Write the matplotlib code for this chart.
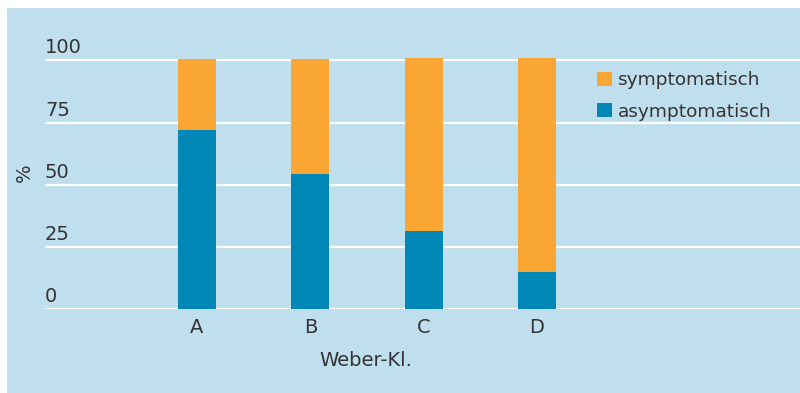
import matplotlib.pyplot as plt
from matplotlib.patches import Rectangle
from matplotlib.transforms import ScaledTranslation

classes = ["A", "B", "C", "D"]
asymptomatisch = [72, 54.3, 31.4, 15]
symptomatisch = [28.5, 46.2, 69.5, 85.9]
yticks = [0, 25, 50, 75, 100]

BG = "#c0dfee"
BLUE = "#0087b5"
ORANGE = "#f9a633"
TXT = "#333333"
plt.rcParams["font.family"] = ["DejaVu Sans"]

fig = plt.figure(figsize=(8, 3.93), dpi=100)
fig.patch.set_facecolor("white")
fig.patches.append(Rectangle((7 / 800, 0), 793 / 800, 385 / 393,
                             transform=fig.transFigure, facecolor=BG,
                             edgecolor="none", zorder=-10))

ax = fig.add_axes([45 / 800, 83.7 / 393, 755 / 800, 273.9 / 393])
ax.set_facecolor("none")
x = range(len(classes))
ax.bar(x, asymptomatisch, width=0.335, color=BLUE, label="asymptomatisch", zorder=2)
ax.bar(x, symptomatisch, width=0.335, bottom=asymptomatisch, color=ORANGE,
       label="symptomatisch", zorder=2)

ax.set_xlim(-1.341, 5.32)
ax.set_ylim(0, 110)
for s in ax.spines.values():
    s.set_visible(False)
ax.set_yticks(yticks)
ax.yaxis.grid(True, color="white", linewidth=1.6)
ax.set_axisbelow(True)
ax.tick_params(axis="both", length=0, colors=TXT, labelsize=14)
ax.tick_params(axis="y", pad=0)
ax.tick_params(axis="x", pad=6)
ax.set_xticks(list(x))
ax.set_xticklabels(classes)
for lab in ax.get_yticklabels():
    lab.set_horizontalalignment("left")
    lab.set_verticalalignment("bottom")
    lab.set_transform(lab.get_transform() + ScaledTranslation(0, 3 / 100, fig.dpi_scale_trans))

ax.set_xlabel("Weber-Kl.", fontsize=14, color=TXT)
ax.xaxis.set_label_coords((365.5 - 45) / 755, -0.186)
ax.xaxis.label.set_verticalalignment("center")
fig.text(24 / 800, 1 - 173 / 393, "%", rotation=90, fontsize=14, color=TXT,
         ha="center", va="center")

h, l = ax.get_legend_handles_labels()
leg = ax.legend(h[::-1], l[::-1], loc="upper left",
                bbox_to_anchor=((588 - 45) / 755, (393 - 62 - 83.7) / 273.9),
                frameon=False, fontsize=13.3, handlelength=0.8, handleheight=0.8,
                handletextpad=0.3, labelspacing=0.72, borderpad=0, labelcolor=TXT)

fig.savefig("out.png", dpi=100, facecolor=fig.get_facecolor())
